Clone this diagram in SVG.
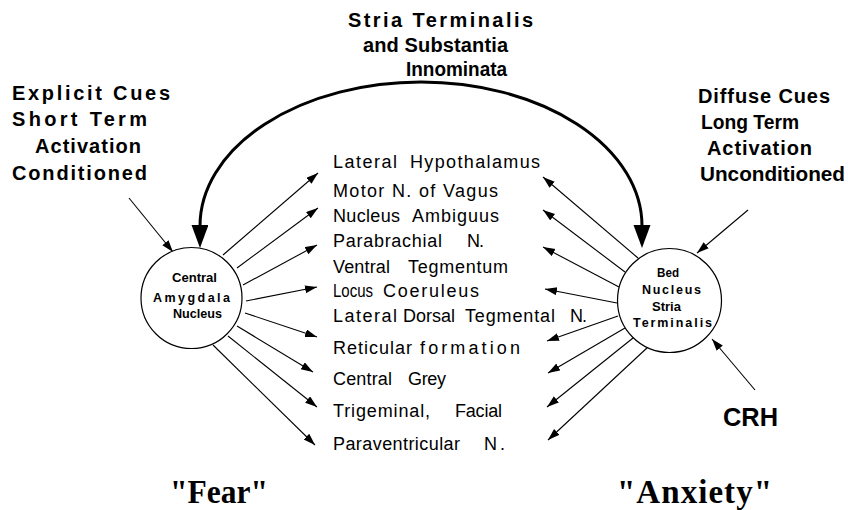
<svg xmlns="http://www.w3.org/2000/svg" width="848" height="510" viewBox="0 0 848 510">
<style>
.bg{fill:#fff}
.node{fill:#fff;stroke:#000;stroke-width:1.2}
.lbl{font-family:"Liberation Sans",Arial,sans-serif;font-weight:bold;fill:#000}
.big{font-size:20px}
.small{font-size:12.5px}
.list{font-family:"Liberation Sans",Arial,sans-serif;font-size:18px;fill:#000}
.serif{font-family:"Liberation Serif","Times New Roman",serif;font-weight:bold;font-size:33px;fill:#000}
.thin{fill:none;stroke:#000;stroke-width:1.1;marker-end:url(#ah)}
.arc{fill:none;stroke:#000;stroke-width:3;marker-start:url(#bigah);marker-end:url(#bigah)}
</style>
<defs>
<marker id="ah" markerUnits="userSpaceOnUse" markerWidth="13" markerHeight="9" refX="12" refY="4" orient="auto">
<path d="M0,0 L12,4 L0,8 z" fill="#000"/>
</marker>
<marker id="bigah" markerUnits="userSpaceOnUse" markerWidth="24" markerHeight="18" refX="1" refY="8.5" orient="auto-start-reverse">
<path d="M0,0 L23,8.5 L0,17 z" fill="#000"/>
</marker>
</defs>
<rect class="bg" x="0" y="0" width="848" height="510"/>

<g id="connectors">
<path class="arc" d="M 200,226 A 221 144 0 0 1 642 226"/>
<line class="thin" x1="223" y1="255" x2="318" y2="173"/>
<line class="thin" x1="237" y1="268" x2="318" y2="208"/>
<line class="thin" x1="243" y1="285" x2="317" y2="245"/>
<line class="thin" x1="246" y1="301" x2="317" y2="287"/>
<line class="thin" x1="245" y1="313" x2="317" y2="337"/>
<line class="thin" x1="237" y1="326" x2="313" y2="372"/>
<line class="thin" x1="228" y1="336" x2="317" y2="407"/>
<line class="thin" x1="213" y1="345" x2="315" y2="445"/>
<line class="thin" x1="638" y1="258" x2="543" y2="177"/>
<line class="thin" x1="625" y1="272" x2="543" y2="210"/>
<line class="thin" x1="619" y1="287" x2="543" y2="247"/>
<line class="thin" x1="617" y1="303" x2="545" y2="289"/>
<line class="thin" x1="618" y1="316" x2="547" y2="341"/>
<line class="thin" x1="625" y1="328" x2="548" y2="373"/>
<line class="thin" x1="633" y1="338" x2="547" y2="407"/>
<line class="thin" x1="648" y1="347" x2="548" y2="440"/>
<line class="thin" x1="129" y1="198" x2="173" y2="252"/>
<line class="thin" x1="748" y1="210" x2="697" y2="253"/>
<line class="thin" x1="755" y1="390" x2="712" y2="339"/>
</g>

<g id="cea">
<circle class="node" cx="191.5" cy="298" r="50.5"/>
<text class="lbl small" x="172" y="282" textLength="45" lengthAdjust="spacingAndGlyphs">Central</text>
<text class="lbl small" x="153" y="302" textLength="77" lengthAdjust="spacing">Amygdala</text>
<text class="lbl small" x="173" y="318" textLength="49" lengthAdjust="spacingAndGlyphs">Nucleus</text>
</g>

<g id="bnst">
<circle class="node" cx="669.5" cy="300.5" r="52"/>
<text class="lbl small" x="657" y="277" textLength="22" lengthAdjust="spacingAndGlyphs">Bed</text>
<text class="lbl small" x="642" y="294" textLength="59" lengthAdjust="spacing">Nucleus</text>
<text class="lbl small" x="652" y="311" textLength="29" lengthAdjust="spacingAndGlyphs">Stria</text>
<text class="lbl small" x="633" y="327" textLength="79" lengthAdjust="spacing">Terminalis</text>
</g>

<g id="explicit">
<text class="lbl big" x="12" y="100" textLength="158" lengthAdjust="spacing">Explicit Cues</text>
<text class="lbl big" x="12" y="126" textLength="135" lengthAdjust="spacing">Short Term</text>
<text class="lbl big" x="35" y="153" textLength="106" lengthAdjust="spacing">Activation</text>
<text class="lbl big" x="12" y="180" textLength="135" lengthAdjust="spacing">Conditioned</text>
</g>

<g id="diffuse">
<text class="lbl big" x="698" y="103" textLength="132" lengthAdjust="spacing">Diffuse Cues</text>
<text class="lbl big" x="701" y="129" textLength="98" lengthAdjust="spacingAndGlyphs">Long Term</text>
<text class="lbl big" x="707" y="155" textLength="105" lengthAdjust="spacing">Activation</text>
<text class="lbl big" x="700" y="181" textLength="145" lengthAdjust="spacingAndGlyphs">Unconditioned</text>
</g>

<g id="stria">
<text class="lbl big" x="348" y="27" textLength="185" lengthAdjust="spacing">Stria Terminalis</text>
<text class="lbl big" x="363" y="52" textLength="145" lengthAdjust="spacing">and Substantia</text>
<text class="lbl big" x="406" y="76" textLength="101" lengthAdjust="spacingAndGlyphs">Innominata</text>
</g>

<g id="crh">
<text class="lbl" style="font-size:25px" x="723" y="426" textLength="55" lengthAdjust="spacingAndGlyphs">CRH</text>
</g>

<g id="targets">
<text class="list" y="168"><tspan x="333" textLength="64">Lateral</tspan> <tspan x="410" textLength="130">Hypothalamus</tspan></text>
<text class="list" x="333" y="197" textLength="165" lengthAdjust="spacing">Motor N. of Vagus</text>
<text class="list" y="222"><tspan x="333" textLength="67">Nucleus</tspan> <tspan x="412" textLength="87">Ambiguus</tspan></text>
<text class="list" y="247"><tspan x="333" textLength="109">Parabrachial</tspan> <tspan x="467" textLength="17">N.</tspan></text>
<text class="list" y="273"><tspan x="333" textLength="57">Ventral</tspan> <tspan x="408" textLength="100">Tegmentum</tspan></text>
<text class="list" y="297"><tspan x="333" textLength="40" lengthAdjust="spacingAndGlyphs">Locus</tspan> <tspan x="383" textLength="96">Coeruleus</tspan></text>
<text class="list" y="322"><tspan x="333" textLength="64">Lateral</tspan> <tspan x="403" textLength="52">Dorsal</tspan> <tspan x="465" textLength="90">Tegmental</tspan> <tspan x="570" textLength="17">N.</tspan></text>
<text class="list" y="354"><tspan x="333" textLength="79">Reticular</tspan> <tspan x="420" textLength="100">formation</tspan></text>
<text class="list" y="385"><tspan x="333" textLength="59">Central</tspan> <tspan x="408" textLength="38">Grey</tspan></text>
<text class="list" y="417"><tspan x="333" textLength="97">Trigeminal,</tspan> <tspan x="455" textLength="47">Facial</tspan></text>
<text class="list" y="450"><tspan x="333" textLength="127">Paraventricular</tspan> <tspan x="484" textLength="21">N.</tspan></text>
</g>

<g id="fear">
<text class="serif" x="170" y="503" textLength="98" lengthAdjust="spacingAndGlyphs">"Fear"</text>
</g>
<g id="anxiety">
<text class="serif" x="617" y="503" textLength="155" lengthAdjust="spacing">"Anxiety"</text>
</g>
</svg>
